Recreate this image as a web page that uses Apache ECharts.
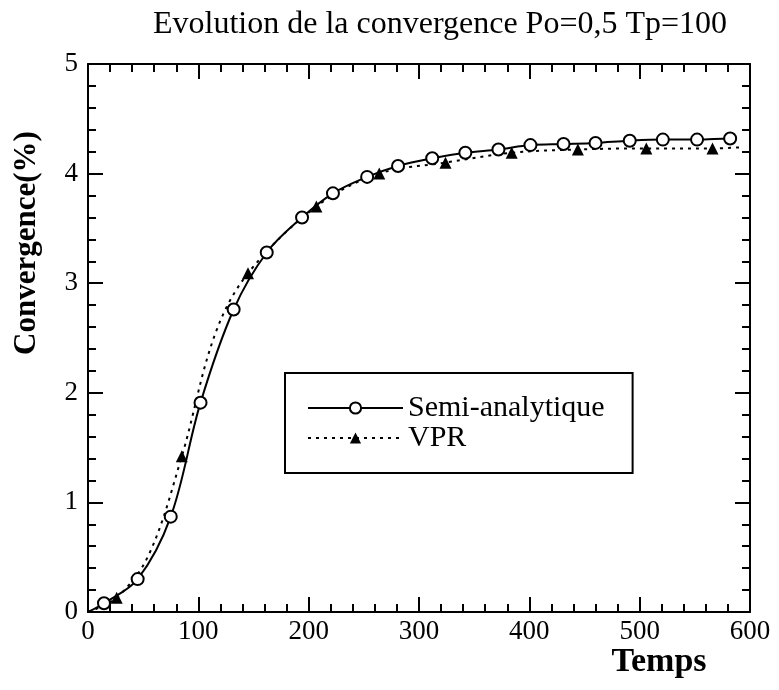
<!DOCTYPE html>
<html>
<head>
<meta charset="utf-8">
<script src="https://cdn.jsdelivr.net/npm/echarts@6/dist/echarts.min.js"></script>
<style>
html,body{margin:0;padding:0;background:#fff;}
#chart{width:779px;height:690px;}
</style>
</head>
<body>
<div id="chart"></div>
<script>
// Data
const titleText = "Evolution de la convergence Po=0,5 Tp=100";
const xName = "Temps";
const yName = "Convergence(%)";
const seriesNames = ["Semi-analytique", "VPR"];

// Semi-analytique: marker points
const semiX = [14.5, 45, 75, 102, 132, 162, 194, 222, 253, 281, 312, 342, 372, 401, 431, 460, 491, 521, 552, 582];
const semiY = [0.08, 0.30, 0.87, 1.91, 2.76, 3.28, 3.60, 3.82, 3.97, 4.07, 4.14, 4.19, 4.22, 4.26, 4.27, 4.28, 4.30, 4.31, 4.31, 4.32];
// Semi-analytique: extra curve points (no marker)
const semiLineX = [0, 588];
const semiLineY = [0, 4.32];

// VPR: marker points
const vprX = [26, 85, 145, 207, 264, 324, 384, 444, 506, 566];
const vprY = [0.13, 1.42, 3.09, 3.70, 4.00, 4.10, 4.19, 4.22, 4.23, 4.23];
// VPR: extra curve points (no marker)
const vprLineX = [0, 55, 115, 593];
const vprLineY = [0, 0.52, 2.53, 4.24];

// Axis ticks
const xTicks = [0, 100, 200, 300, 400, 500, 600];
const yTicks = [0, 1, 2, 3, 4, 5];

function buildData(mx, my, lx, ly) {
  const pts = [];
  mx.forEach((x, i) => pts.push({ value: [x, my[i]] }));
  lx.forEach((x, i) => pts.push({ value: [x, ly[i]], symbol: 'none' }));
  pts.sort((a, b) => a.value[0] - b.value[0]);
  return pts;
}

const FONT = '"Liberation Serif", "Times New Roman", serif';
const chart = echarts.init(document.getElementById('chart'), null, { renderer: 'canvas' });

const axisCommon = {
  axisLine: { show: true, onZero: false, lineStyle: { color: '#000', width: 2 } },
  splitLine: { show: false },
};
const tickStyle = { show: true, inside: true, length: 15, lineStyle: { color: '#000', width: 2 } };
const minorStyle = { show: true, splitNumber: 5, length: 8, lineStyle: { color: '#000', width: 2 } };

const option = {
  backgroundColor: '#fff',
  animation: false,
  title: {
    text: titleText,
    left: 435,
    textAlign: 'center',
    top: 4,
    textStyle: { fontFamily: FONT, fontWeight: 'normal', fontSize: 32, color: '#000' }
  },
  grid: { left: 88, right: 29, top: 64, bottom: 78, containLabel: false, outerBoundsMode: 'none' },
  legend: {
    orient: 'vertical',
    left: 285,
    top: 373,
    padding: [20, 28, 20, 22],
    itemGap: 0,
    itemWidth: 95,
    itemHeight: 14,
    borderColor: '#000',
    borderWidth: 2,
    backgroundColor: '#fff',
    textStyle: { fontFamily: FONT, fontSize: 30, color: '#000', lineHeight: 25 },
    data: seriesNames
  },
  xAxis: [
    Object.assign({}, axisCommon, {
      type: 'value', position: 'bottom', min: 0, max: 600, interval: 100,
      name: xName, nameLocation: 'middle', nameGap: 33, nameMoveOverlap: false,
      nameTextStyle: { fontFamily: FONT, fontWeight: 'bold', fontSize: 34, color: '#000', padding: [0, 0, 0, 480] },
      axisTick: tickStyle,
      minorTick: minorStyle,
      axisLabel: { fontFamily: FONT, fontSize: 27, color: '#000', margin: 6, customValues: xTicks }
    }),
    Object.assign({}, axisCommon, {
      type: 'value', position: 'top', min: 0, max: 600, interval: 100,
      axisTick: tickStyle,
      minorTick: minorStyle,
      axisLabel: { show: false }
    })
  ],
  yAxis: [
    Object.assign({}, axisCommon, {
      type: 'value', position: 'left', min: 0, max: 5, interval: 1,
      name: yName, nameLocation: 'middle', nameGap: 46, nameRotate: 90, nameMoveOverlap: false,
      nameTextStyle: { fontFamily: FONT, fontWeight: 'bold', fontSize: 31, color: '#000', padding: [0, 0, 0, 190] },
      axisTick: tickStyle,
      minorTick: minorStyle,
      axisLabel: { fontFamily: FONT, fontSize: 27, color: '#000', margin: 10, customValues: yTicks }
    }),
    Object.assign({}, axisCommon, {
      type: 'value', position: 'right', min: 0, max: 5, interval: 1,
      axisTick: tickStyle,
      minorTick: minorStyle,
      axisLabel: { show: false }
    })
  ],
  series: [
    {
      name: seriesNames[0],
      type: 'line',
      xAxisIndex: 0, yAxisIndex: 0,
      data: buildData(semiX, semiY, semiLineX, semiLineY),
      smooth: 0.35,
      symbol: 'emptyCircle',
      symbolSize: 12,
      showAllSymbol: true,
      lineStyle: { color: '#000', width: 2, type: 'solid' },
      itemStyle: { color: '#000', borderWidth: 1.5 },
      z: 3
    },
    {
      name: seriesNames[1],
      type: 'line',
      xAxisIndex: 0, yAxisIndex: 0,
      data: buildData(vprX, vprY, vprLineX, vprLineY),
      smooth: 0.35,
      symbol: 'triangle',
      symbolSize: 12,
      showAllSymbol: true,
      lineStyle: { color: '#000', width: 2, type: [3, 5] },
      itemStyle: { color: '#000', borderWidth: 0 },
      z: 2
    }
  ]
};
chart.setOption(option);
</script>
</body>
</html>
